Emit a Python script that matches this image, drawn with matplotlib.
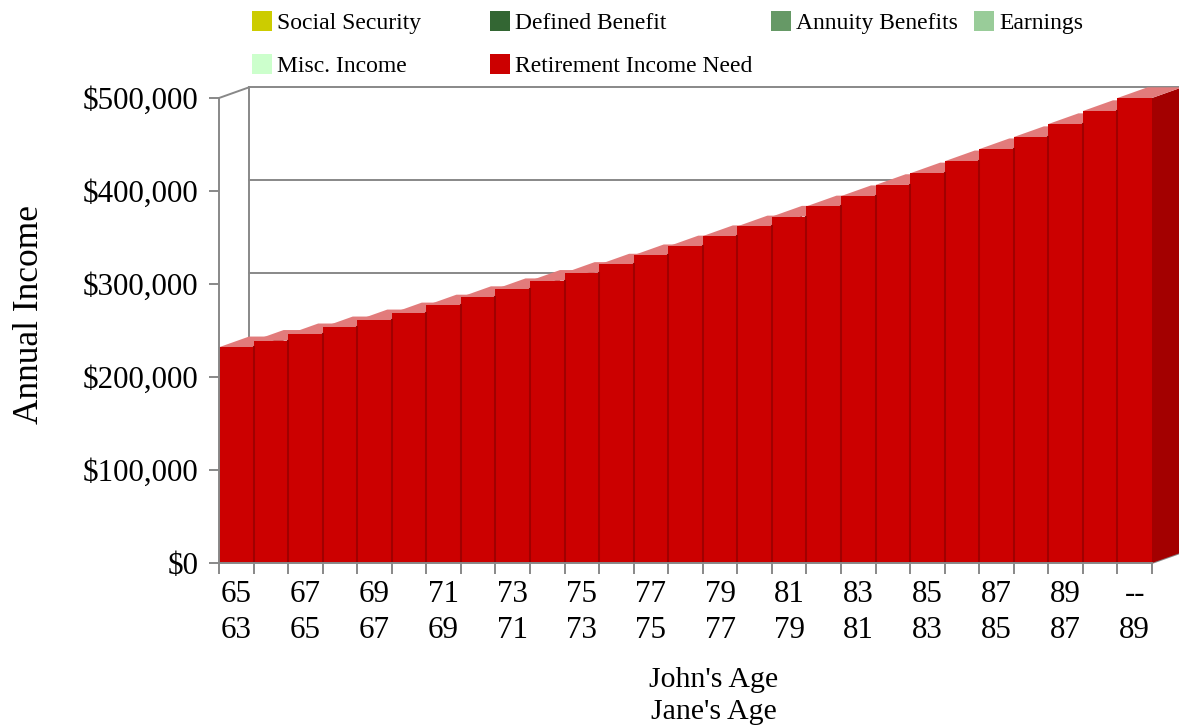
import matplotlib.pyplot as plt
from matplotlib.patches import Polygon, Rectangle
import numpy as np

# --- Data --- #
john_ages = ["65", "66", "67", "68", "69", "70", "71", "72", "73", "74", "75", "76", "77", "78",
             "79", "80", "81", "82", "83", "84", "85", "86", "87", "88", "89", "90", "--"]
jane_ages = ["63", "64", "65", "66", "67", "68", "69", "70", "71", "72", "73", "74", "75", "76",
             "77", "78", "79", "80", "81", "82", "83", "84", "85", "86", "87", "88", "89"]
income_need = [232000, 239000, 246000, 253500, 261000, 268500, 277000, 286000, 294500,
               303500, 312000, 321000, 331000, 340500, 351500, 362000, 372500, 383500,
               394500, 406500, 419000, 432000, 445000, 458000, 472000, 486000, 500000]

legend_labels = ["Social Security", "Defined Benefit", "Annuity Benefits", "Earnings",
                 "Misc. Income", "Retirement Income Need"]
legend_colors = ["#CCCC00", "#336633", "#669966", "#99CC99", "#CCFFCC", "#CC0000"]

y_ticks = [0, 100000, 200000, 300000, 400000, 500000]

plt.rcParams['font.family'] = ['Liberation Serif', 'DejaVu Serif']

W, H = 1179, 726
fig = plt.figure(figsize=(W / 100, H / 100), dpi=100)
ax = fig.add_axes([219 / W, (H - 563) / H, 933 / W, 465 / H])

n = len(income_need)
ax.set_xlim(-0.5, n - 0.5)
ax.set_ylim(0, 500000)

# depth offset of the pseudo-3D box (in data units)
ddx = 0.87
ddy = 11500
grid_c = "#888888"

# back wall: gridlines + left edge
for v in y_ticks:
    ax.plot([-0.5 + ddx, n - 0.5 + ddx], [v + ddy, v + ddy], color=grid_c, lw=1.4,
            clip_on=False, zorder=1)
ax.plot([-0.5 + ddx, -0.5 + ddx], [ddy, 500000 + ddy], color=grid_c, lw=1.4, clip_on=False, zorder=1)
ax.plot([-0.5, -0.5 + ddx], [500000, 500000 + ddy], color=grid_c, lw=1.4, clip_on=False, zorder=1)
ax.plot([n - 0.5, n - 0.5 + ddx], [0, ddy], color=grid_c, lw=1.4, clip_on=False, zorder=1)

# bars, drawn left to right so each one covers the back of the previous
front_c, top_c, side_c = "#CC0000", "#E27B7B", "#A30000"
for i, h in enumerate(income_need):
    x0, x1 = i - 0.5, i + 0.5
    z = 3 + i * 0.01
    side = Polygon([(x1, 0), (x1 + ddx, ddy), (x1 + ddx, h + ddy), (x1, h)],
                   closed=True, fc=side_c, ec='none', clip_on=False, zorder=z)
    top = Polygon([(x0, h), (x1, h), (x1 + ddx, h + ddy), (x0 + ddx, h + ddy)],
                  closed=True, fc=top_c, ec='none', clip_on=False, zorder=z)
    ax.add_patch(side)
    ax.add_patch(top)
    ax.bar(i, h, width=1.0, color=front_c, linewidth=0, zorder=z + 0.001)
    if i > 0:
        ax.plot([x0, x0], [0, income_need[i - 1]], color="#A00000", lw=1.5, zorder=z + 0.002)

# axes styling
for s in ["top", "right"]:
    ax.spines[s].set_visible(False)
for s in ["left", "bottom"]:
    ax.spines[s].set_color(grid_c)
    ax.spines[s].set_linewidth(1.4)
    ax.spines[s].set_zorder(10)

ax.set_yticks(y_ticks)
ax.set_yticklabels(["${:,}".format(v) for v in y_ticks])
ax.tick_params(axis='y', length=7, width=1.4, color=grid_c, labelsize=22.3, pad=8)

ax.set_xticks(np.arange(0, n, 2))
ax.set_xticklabels([john_ages[i] + "\n" + jane_ages[i] for i in range(0, n, 2)],
                   linespacing=1.32)
ax.set_xticks(np.arange(-0.5, n, 1), minor=True)
ax.tick_params(axis='x', which='major', length=0, labelsize=22.3, pad=12)
ax.tick_params(axis='x', which='minor', length=8, width=1.4, color=grid_c)

# axis titles
fig.text(714 / W, (H - 696) / H, "John's Age\nJane's Age", ha='center', va='center',
         fontsize=21.5, linespacing=1.32)
fig.text(30 / W, (H - 315) / H, "Annual Income", rotation=90, ha='center', va='center',
         fontsize=25.5)

# legend laid out as a 4-column grid
col_x = [252, 490, 771, 974]
row_y = [21, 64]
for k, (lab, col) in enumerate(zip(legend_labels, legend_colors)):
    cx = col_x[k % 4]
    cy = row_y[k // 4]
    fig.add_artist(Rectangle((cx / W, (H - cy - 10) / H), 20 / W, 20 / H,
                             transform=fig.transFigure, fc=col, ec='none'))
    fig.text((cx + 25) / W, (H - cy - 8) / H, lab, ha='left', va='baseline', fontsize=17)

fig.savefig("out.png", dpi=100)
